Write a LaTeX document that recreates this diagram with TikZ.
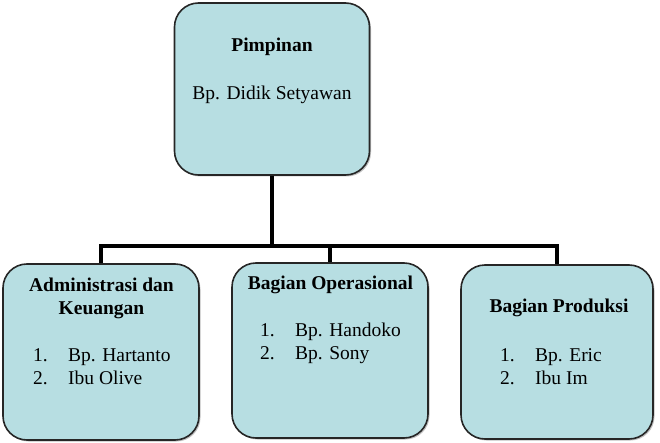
\documentclass[tikz,border=0pt]{standalone}
\usepackage{fontspec}
\setmainfont{Liberation Serif}
\usetikzlibrary{shadows}
\definecolor{boxfill}{RGB}{183,222,226}
\newcommand{\listrow}[2]{\makebox[35pt][l]{#1}#2}

\begin{document}
\begin{tikzpicture}[x=1pt, y=1pt,
    unit/.style={rectangle, rounded corners=24pt, draw=black!85, line width=1.6pt, fill=boxfill,
        drop shadow={shadow xshift=1.5pt, shadow yshift=-1.5pt, opacity=0.5}},
    txt/.style={font=\fontsize{19.5}{23.5}\selectfont, inner sep=0pt},
    head/.style={txt, font=\fontsize{19.5}{23.5}\selectfont\bfseries, align=center},
    names/.style={txt, anchor=west, align=left},
    link/.style={line width=4pt}]
    \useasboundingbox (0,0) rectangle (660,442);

    % kotak
    \node (pimpinan) [unit, minimum width=195pt, minimum height=172pt] at (272,353) {};
    \node (admin) [unit, minimum width=196pt, minimum height=176pt] at (101,90) {};
    \node (operasional) [unit, minimum width=196pt, minimum height=175pt] at (330,91.5) {};
    \node (produksi) [unit, minimum width=192pt, minimum height=174pt] at (557,90) {};

    % garis
    \coordinate (bar) at (272,196);
    \draw [link] (pimpinan) -- (bar);
    \draw [link] (bar) -| (admin);
    \draw [link] (bar) -| (operasional);
    \draw [link] (bar) -| (produksi);

    % teks
    \node (pimpinan-head) [head] at (272,395) {Pimpinan};
    \node (pimpinan-name) [txt] at (272,347) {Bp. Didik Setyawan};
    \node (admin-head) [head] at (101.5,143.5) {Administrasi dan\\Keuangan};
    \node (admin-names) [names] at (33,75.5) {\listrow{1.}{Bp. Hartanto}\\\listrow{2.}{Ibu Olive}};
    \node (operasional-head) [head] at (330.5,157) {Bagian Operasional};
    \node (operasional-names) [names] at (260,98.5) {\listrow{1.}{Bp. Handoko}\\\listrow{2.}{Bp. Sony}};
    \node (produksi-head) [head] at (559,134) {Bagian Produksi};
    \node (produksi-names) [names] at (500,75.5) {\listrow{1.}{Bp. Eric}\\\listrow{2.}{Ibu Im}};
\end{tikzpicture}
\end{document}
